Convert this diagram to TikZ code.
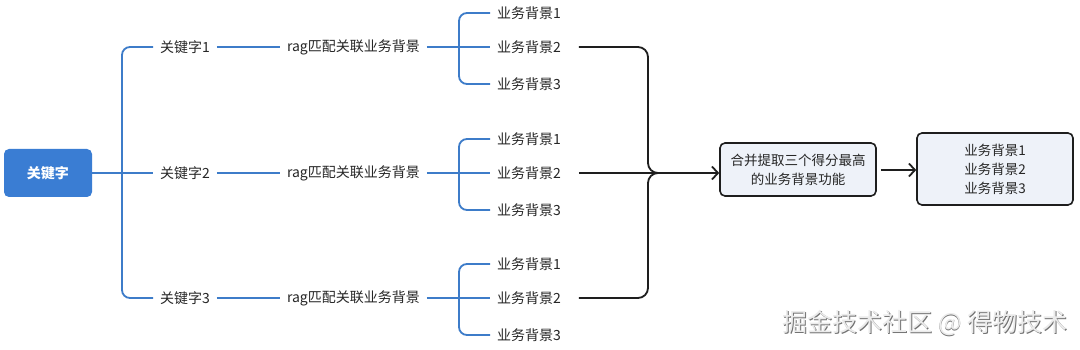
\documentclass[tikz,border=0pt]{standalone}
\usepackage{fontspec}
\setmainfont{Noto Sans CJK SC}
\usetikzlibrary{arrows.meta}
\definecolor{lineblue}{HTML}{3D7CC9}
\definecolor{rootblue}{HTML}{3A7DD3}
\definecolor{boxfill}{HTML}{EEF2F9}
\definecolor{boxline}{HTML}{1E1E1E}
\begin{document}
\begin{tikzpicture}[x=1pt,y=-1pt,
  txt/.style={inner sep=0pt,outer sep=7pt,font=\fontsize{14}{16}\selectfont,text=black!85},
  bl/.style={draw=lineblue,line width=1.8pt,rounded corners=8pt},
  bk/.style={draw=boxline,line width=1.8pt,rounded corners=10pt},
  arr/.style={draw=boxline,line width=1.8pt,-{Straight Barb[length=6pt,width=13pt,line width=1.8pt]}},
  rootbox/.style={fill=rootblue,rounded corners=5pt,minimum width=88pt,minimum height=48pt,text=white,font=\fontsize{14}{16}\selectfont\bfseries,inner sep=0pt},
  pbox/.style={draw=boxline,fill=boxfill,line width=1.6pt,rounded corners=5pt,font=\fontsize{13.5}{19}\selectfont,align=center,text=black!85,inner sep=0pt}
]
\useasboundingbox (0,0) rectangle (1080,350);
\fill[white] (0,0) rectangle (1080,350);

\node[rootbox] (root) at (48,173) {关键字};

\foreach \i/\y in {1/47,2/173,3/298}{
  \node[txt,anchor=west] (k\i) at (153,\y) {关键字\i};
  \node[txt,anchor=west] (r\i) at (280,\y) {rag匹配关联业务背景};
  \draw[bl] (k\i.east) -- (r\i.west);
}
\draw[bl] (root.east) -- (k2.west);
\draw[bl] (k1.west) -- (122,47) -- (122,298) -- (k3.west);

\foreach \i/\y in {1/47,2/173,3/298}{
  \foreach \j/\d in {1/-34,2/0,3/37}{
    \node[txt,anchor=west] (b\i\j) at (490,\y+\d) {业务背景\j};
  }
  \draw[bl] (r\i.east) -- (b\i2.west);
  \draw[bl] (b\i1.west) -- (459,\y-34) -- (459,\y+37) -- (b\i3.west);
}

\node[pbox,minimum width=156pt,minimum height=53pt] (merge) at (798,169.5) {合并提取三个得分最高\\的业务背景功能};
\node[pbox,minimum width=156pt,minimum height=72pt] (out) at (995,169) {业务背景1\\业务背景2\\业务背景3};

\coordinate (j) at (660,173);
\draw[bk,shorten <=11pt] (b12.east) -- (648,47) -- (648,173) -- (j);
\draw[bk,shorten <=11pt] (b32.east) -- (648,298) -- (648,173) -- (j);
\draw[arr,shorten <=11pt] (b22.east) -- (merge.west |- b22.east);
\draw[arr] (merge.east |- 0,170) ++(4,0) coordinate (a1) (a1) -- (out.west |- a1);

\node[font=\fontsize{25}{27}\selectfont,text=black!55,anchor=center] (wms) at (925.8,323.8) {掘金技术社区 @ 得物技术};
\node[font=\fontsize{25}{27}\selectfont,text=black!8,anchor=center] (wm) at (925,323) {掘金技术社区 @ 得物技术};
\end{tikzpicture}
\end{document}
